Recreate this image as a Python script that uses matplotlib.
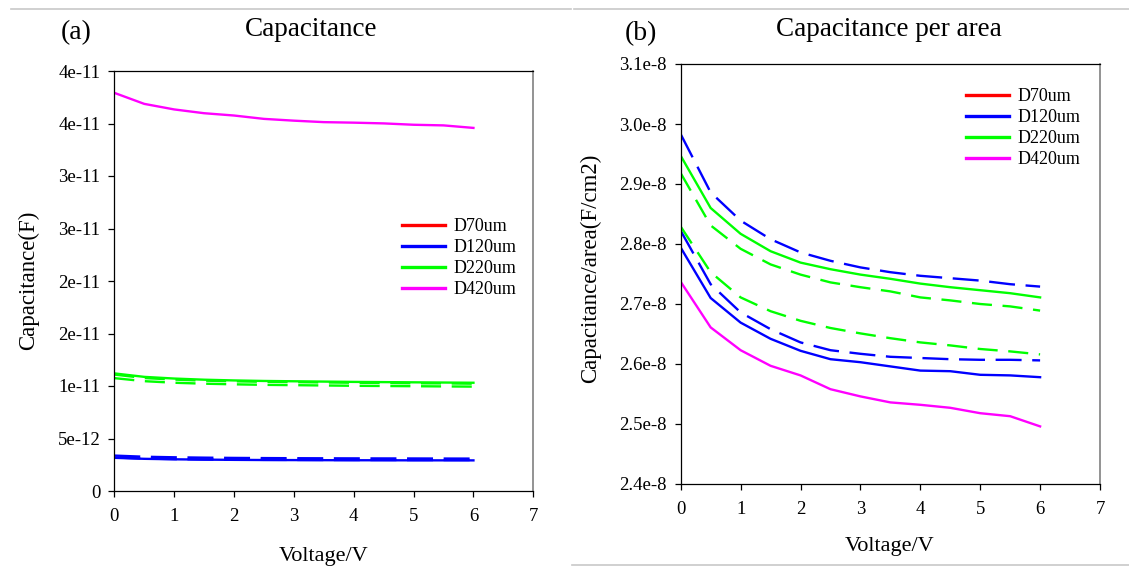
import matplotlib
matplotlib.use("Agg")
import matplotlib.pyplot as plt
from matplotlib.lines import Line2D

plt.rcParams["font.family"] = ["Liberation Serif", "DejaVu Serif"]

W, H = 1129, 568

# Bias voltage sweep (V)
voltage = [0, 0.5, 1, 1.5, 2, 2.5, 3, 3.5, 4, 4.5, 5, 5.5, 6]

# ---- (a) capacitance (F) ----
cap_d120_solid = [3.160e-12, 3.065e-12, 3.019e-12, 2.988e-12, 2.966e-12, 2.950e-12, 2.944e-12,
                  2.936e-12, 2.928e-12, 2.927e-12, 2.920e-12, 2.919e-12, 2.916e-12]
cap_d120_dash_a = [3.374e-12, 3.264e-12, 3.211e-12, 3.176e-12, 3.151e-12, 3.135e-12, 3.123e-12,
                   3.114e-12, 3.107e-12, 3.102e-12, 3.098e-12, 3.091e-12, 3.086e-12]
cap_d120_dash_b = [3.192e-12, 3.091e-12, 3.038e-12, 3.006e-12, 2.981e-12, 2.967e-12, 2.960e-12,
                   2.954e-12, 2.952e-12, 2.950e-12, 2.949e-12, 2.949e-12, 2.947e-12]
cap_d220_solid = [1.120e-11, 1.087e-11, 1.071e-11, 1.060e-11, 1.053e-11, 1.048e-11, 1.045e-11,
                  1.042e-11, 1.039e-11, 1.037e-11, 1.035e-11, 1.033e-11, 1.031e-11]
cap_d220_dash_a = [1.109e-11, 1.076e-11, 1.061e-11, 1.051e-11, 1.045e-11, 1.040e-11, 1.037e-11,
                   1.034e-11, 1.031e-11, 1.029e-11, 1.026e-11, 1.025e-11, 1.022e-11]
cap_d220_dash_b = [1.075e-11, 1.046e-11, 1.031e-11, 1.022e-11, 1.016e-11, 1.011e-11, 1.008e-11,
                   1.005e-11, 1.002e-11, 1.000e-11, 0.998e-11, 0.996e-11, 0.994e-11]
cap_d420 = [3.792e-11, 3.687e-11, 3.634e-11, 3.598e-11, 3.576e-11, 3.544e-11, 3.527e-11,
            3.513e-11, 3.508e-11, 3.501e-11, 3.488e-11, 3.482e-11, 3.458e-11]

# ---- (b) capacitance per area (F/cm2) ----
cpa_d120_solid = [2.794e-8, 2.710e-8, 2.669e-8, 2.642e-8, 2.622e-8, 2.608e-8, 2.603e-8,
                  2.596e-8, 2.589e-8, 2.588e-8, 2.582e-8, 2.581e-8, 2.578e-8]
cpa_d120_dash_a = [2.983e-8, 2.886e-8, 2.839e-8, 2.808e-8, 2.786e-8, 2.772e-8, 2.761e-8,
                   2.753e-8, 2.747e-8, 2.743e-8, 2.739e-8, 2.733e-8, 2.729e-8]
cpa_d120_dash_b = [2.822e-8, 2.733e-8, 2.686e-8, 2.658e-8, 2.636e-8, 2.623e-8, 2.617e-8,
                   2.612e-8, 2.610e-8, 2.608e-8, 2.607e-8, 2.607e-8, 2.606e-8]
cpa_d220_solid = [2.947e-8, 2.860e-8, 2.817e-8, 2.788e-8, 2.769e-8, 2.758e-8, 2.749e-8,
                  2.742e-8, 2.734e-8, 2.728e-8, 2.723e-8, 2.718e-8, 2.711e-8]
cpa_d220_dash_a = [2.918e-8, 2.831e-8, 2.792e-8, 2.766e-8, 2.749e-8, 2.736e-8, 2.728e-8,
                   2.721e-8, 2.711e-8, 2.706e-8, 2.700e-8, 2.696e-8, 2.689e-8]
cpa_d220_dash_b = [2.829e-8, 2.753e-8, 2.711e-8, 2.688e-8, 2.672e-8, 2.660e-8, 2.651e-8,
                   2.643e-8, 2.636e-8, 2.631e-8, 2.625e-8, 2.621e-8, 2.616e-8]
cpa_d420 = [2.737e-8, 2.661e-8, 2.623e-8, 2.597e-8, 2.581e-8, 2.558e-8, 2.546e-8,
            2.536e-8, 2.532e-8, 2.527e-8, 2.518e-8, 2.513e-8, 2.496e-8]

legend_labels = ["D70um", "D120um", "D220um", "D420um"]
legend_colors = ["#ff0000", "#0000ff", "#00ff00", "#ff00ff"]

x_ticks = [0, 1, 2, 3, 4, 5, 6, 7]
a_yticks = [0, 5e-12, 1e-11, 1.5e-11, 2e-11, 2.5e-11, 3e-11, 3.5e-11, 4e-11]
a_yticklabels = ["0", "5e-12", "1e-11", "2e-11", "2e-11", "3e-11", "3e-11", "4e-11", "4e-11"]
b_yticks = [2.4e-8, 2.5e-8, 2.6e-8, 2.7e-8, 2.8e-8, 2.9e-8, 3.0e-8, 3.1e-8]
b_yticklabels = ["2.4e-8", "2.5e-8", "2.6e-8", "2.7e-8", "2.8e-8", "2.9e-8", "3.0e-8", "3.1e-8"]

BLUE, GREEN, MAGENTA = "#0000ff", "#00ff00", "#ff00ff"
LW = 1.7
DASH_LONG = (0, (11, 4.5))
DASH_SHORT = (0, (8.5, 4.5))


def px_box(x0, y0, x1, y1):
    return [x0 / W, 1 - y1 / H, (x1 - x0) / W, (y1 - y0) / H]


def px(x, y):
    return x / W, 1 - y / H


fig = plt.figure(figsize=(W / 100, H / 100), dpi=100)

ax_a = fig.add_axes(px_box(114.3, 71, 533.3, 491))
ax_b = fig.add_axes(px_box(680.7, 64, 1100, 484))


def style_axes(ax, yticks, yticklabels, ylim):
    ax.set_xlim(0, 7)
    ax.set_ylim(*ylim)
    ax.set_xticks(x_ticks)
    ax.set_xticklabels([str(t) for t in x_ticks])
    ax.set_yticks(yticks)
    ax.set_yticklabels(yticklabels)
    ax.tick_params(direction="out", length=4, width=0.9, labelsize=13.5, colors="black")
    ax.tick_params(axis="x", pad=8)
    ax.tick_params(axis="y", pad=6)
    for s in ("left", "bottom", "top"):
        ax.spines[s].set_color("black")
        ax.spines[s].set_linewidth(0.9)
    ax.spines["right"].set_color("#808080")
    ax.spines["right"].set_linewidth(1.2)


# (a) capacitance
ax_a.plot(voltage, cap_d120_solid, color=BLUE, lw=LW)
ax_a.plot(voltage, cap_d120_dash_a, color=BLUE, lw=LW, linestyle=DASH_LONG)
ax_a.plot(voltage, cap_d120_dash_b, color=BLUE, lw=LW, linestyle=DASH_LONG)
ax_a.plot(voltage, cap_d220_solid, color=GREEN, lw=LW)
ax_a.plot(voltage, cap_d220_dash_a, color=GREEN, lw=LW, linestyle=DASH_SHORT)
ax_a.plot(voltage, cap_d220_dash_b, color=GREEN, lw=LW, linestyle=DASH_SHORT)
ax_a.plot(voltage, cap_d420, color=MAGENTA, lw=LW)
style_axes(ax_a, a_yticks, a_yticklabels, (0, 4e-11))

# (b) capacitance per area
ax_b.plot(voltage, cpa_d120_solid, color=BLUE, lw=LW)
ax_b.plot(voltage, cpa_d120_dash_a, color=BLUE, lw=LW, linestyle=DASH_LONG)
ax_b.plot(voltage, cpa_d120_dash_b, color=BLUE, lw=LW, linestyle=DASH_LONG)
ax_b.plot(voltage, cpa_d220_solid, color=GREEN, lw=LW)
ax_b.plot(voltage, cpa_d220_dash_a, color=GREEN, lw=LW, linestyle=DASH_SHORT)
ax_b.plot(voltage, cpa_d220_dash_b, color=GREEN, lw=LW, linestyle=DASH_SHORT)
ax_b.plot(voltage, cpa_d420, color=MAGENTA, lw=LW)
style_axes(ax_b, b_yticks, b_yticklabels, (2.4e-8, 3.1e-8))

# Legends
handles = [Line2D([], [], color=c, lw=2.4) for c in legend_colors]
for ax, (lx, ly) in ((ax_a, (402, 218)), (ax_b, (966, 88))):
    fig.legend(handles, legend_labels, loc="upper left",
               bbox_to_anchor=px(lx, ly), bbox_transform=fig.transFigure,
               frameon=False, fontsize=13, handlelength=2.4, handletextpad=0.45,
               labelspacing=0.22, borderpad=0, borderaxespad=0)

# Titles and panel tags
fig.text(*px(76, 33), "(a)", fontsize=20, ha="center", va="center")
fig.text(*px(311, 30), "Capacitance", fontsize=19.5, ha="center", va="center")
fig.text(*px(641, 34), "(b)", fontsize=20, ha="center", va="center")
fig.text(*px(888.5, 30), "Capacitance per area", fontsize=19.5, ha="center", va="center")

# Axis labels
fig.text(*px(323.8, 556), "Voltage/V", fontsize=16, ha="center", va="center")
fig.text(*px(890, 546), "Voltage/V", fontsize=16, ha="center", va="center")
fig.text(*px(29, 280), "Capacitance(F)", fontsize=16.5, rotation=90, ha="center", va="center")
fig.text(*px(591, 268), "Capacitance/area(F/cm2)", fontsize=16.5, rotation=90,
         ha="center", va="center")

# Thin grey separator rules
rule = dict(color="#c8c8c8", lw=1.2, transform=fig.transFigure)
fig.add_artist(Line2D([11 / W, 571 / W], [1 - 8.5 / H, 1 - 8.5 / H], **rule))
fig.add_artist(Line2D([574 / W, 1], [1 - 8.5 / H, 1 - 8.5 / H], **rule))
fig.add_artist(Line2D([572 / W, 1], [1 - 565 / H, 1 - 565 / H], **rule))

fig.savefig("out.png", dpi=100)
